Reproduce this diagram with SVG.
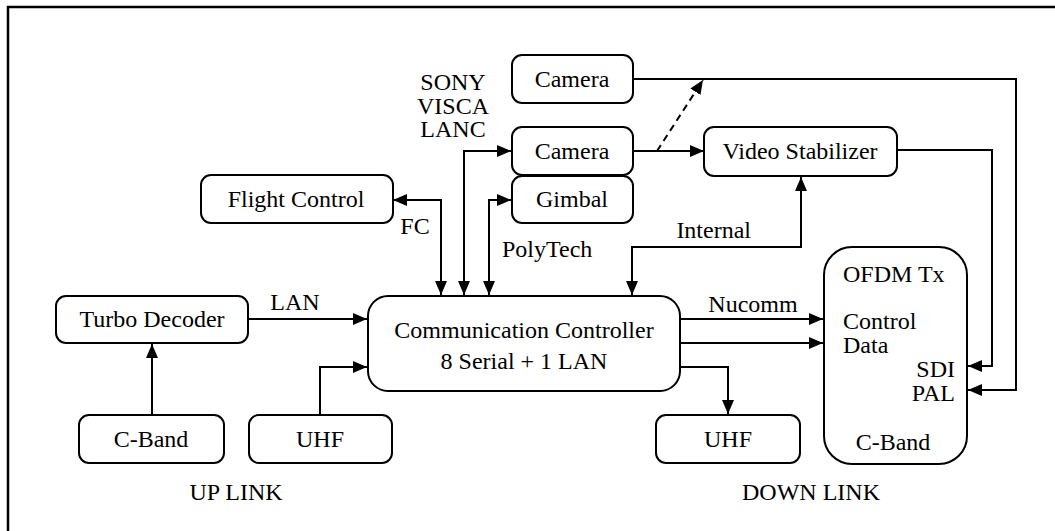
<svg xmlns="http://www.w3.org/2000/svg" width="1055" height="531" viewBox="0 0 1055 531" font-family="Liberation Serif">
  <defs>
    <marker id="arr" viewBox="0 0 14 12" refX="14" refY="6" markerWidth="14" markerHeight="12" markerUnits="userSpaceOnUse" orient="auto-start-reverse">
      <path d="M0,0 L14,6 L0,12 Z" fill="#000"/>
    </marker>
  </defs>

  <rect width="1055" height="531" fill="#fff"/>
  <!-- frame -->
  <path d="M8,531 V7 H1055" fill="none" stroke="#000" stroke-width="2.5"/>

  <!-- connectors -->
  <g id="connectors" fill="none" stroke="#000" stroke-width="2">
    <path d="M441,295 V200 H393" marker-start="url(#arr)" marker-end="url(#arr)"/>
    <path d="M464,295 V151 H511" marker-start="url(#arr)" marker-end="url(#arr)"/>
    <path d="M489,295 V200 H511" marker-start="url(#arr)" marker-end="url(#arr)"/>
    <path d="M632,295 V247 H801 V177" marker-start="url(#arr)" marker-end="url(#arr)"/>
    <path d="M633,151 H704" marker-end="url(#arr)"/>
    <path d="M657,151 L703,80" stroke-dasharray="7 5" marker-end="url(#arr)"/>
    <path d="M633,79 H1016 V390 H968" marker-end="url(#arr)"/>
    <path d="M897,150 H992 V366 H968" marker-end="url(#arr)"/>
    <path d="M248,319 H367" marker-end="url(#arr)"/>
    <path d="M152,415 V344" marker-end="url(#arr)"/>
    <path d="M320,415 V367 H367" marker-end="url(#arr)"/>
    <path d="M680,319 H823" marker-end="url(#arr)"/>
    <path d="M680,343 H823" marker-end="url(#arr)"/>
    <path d="M680,367 H728 V414" marker-end="url(#arr)"/>
  </g>

  <!-- node boxes -->
  <g fill="#fff" stroke="#000" stroke-width="2">
    <rect id="camera-top-box" x="512" y="55" width="121" height="48" rx="10"/>
    <rect id="camera-box" x="512" y="127" width="121" height="48" rx="10"/>
    <rect id="gimbal-box" x="512" y="176" width="121" height="47" rx="10"/>
    <rect id="flight-control-box" x="201" y="175" width="192" height="48" rx="10"/>
    <rect id="video-stabilizer-box" x="704" y="127" width="193" height="49" rx="10"/>
    <rect id="turbo-decoder-box" x="56" y="296" width="192" height="47" rx="10"/>
    <rect id="comm-controller-box" x="368" y="296" width="312" height="95" rx="20"/>
    <rect id="ofdm-tx-box" x="824" y="247" width="143" height="217" rx="28"/>
    <rect id="cband-up-box" x="79" y="415" width="145" height="48" rx="10"/>
    <rect id="uhf-up-box" x="249" y="415" width="143" height="48" rx="10"/>
    <rect id="uhf-down-box" x="656" y="415" width="144" height="48" rx="10"/>
  </g>

  <!-- node texts -->
  <g id="camera-top"><text x="572" y="87" style="font-family:'Liberation Serif',serif" font-size="24" text-anchor="middle">Camera</text></g>
  <g id="camera"><text x="572" y="159" style="font-family:'Liberation Serif',serif" font-size="24" text-anchor="middle">Camera</text></g>
  <g id="gimbal"><text x="572" y="207" style="font-family:'Liberation Serif',serif" font-size="24" text-anchor="middle">Gimbal</text></g>
  <g id="flight-control"><text x="296" y="207" style="font-family:'Liberation Serif',serif" font-size="24" text-anchor="middle">Flight Control</text></g>
  <g id="video-stabilizer"><text x="800" y="159" style="font-family:'Liberation Serif',serif" font-size="24" text-anchor="middle">Video Stabilizer</text></g>
  <g id="turbo-decoder"><text x="152" y="327" style="font-family:'Liberation Serif',serif" font-size="24" text-anchor="middle">Turbo Decoder</text></g>
  <g id="comm-controller">
    <text x="524" y="338" style="font-family:'Liberation Serif',serif" font-size="24" text-anchor="middle">Communication Controller</text>
    <text x="524" y="369" style="font-family:'Liberation Serif',serif" font-size="24" text-anchor="middle">8 Serial + 1 LAN</text>
  </g>
  <g id="ofdm-tx">
    <text x="843" y="282" style="font-family:'Liberation Serif',serif" font-size="24">OFDM Tx</text>
    <text x="843" y="329" style="font-family:'Liberation Serif',serif" font-size="24">Control</text>
    <text x="843" y="353" style="font-family:'Liberation Serif',serif" font-size="24">Data</text>
    <text x="955" y="377" style="font-family:'Liberation Serif',serif" font-size="24" text-anchor="end">SDI</text>
    <text x="955" y="401" style="font-family:'Liberation Serif',serif" font-size="24" text-anchor="end">PAL</text>
    <text x="893" y="450" style="font-family:'Liberation Serif',serif" font-size="24" text-anchor="middle">C-Band</text>
  </g>
  <g id="cband-up"><text x="151" y="447" style="font-family:'Liberation Serif',serif" font-size="24" text-anchor="middle">C-Band</text></g>
  <g id="uhf-up"><text x="320" y="447" style="font-family:'Liberation Serif',serif" font-size="24" text-anchor="middle">UHF</text></g>
  <g id="uhf-down"><text x="728" y="447" style="font-family:'Liberation Serif',serif" font-size="24" text-anchor="middle">UHF</text></g>

  <!-- labels -->
  <g id="labels">
    <text x="453" y="90" style="font-family:'Liberation Serif',serif" font-size="24" text-anchor="middle">SONY</text>
    <text x="453" y="113.5" style="font-family:'Liberation Serif',serif" font-size="24" text-anchor="middle">VISCA</text>
    <text x="453" y="137" style="font-family:'Liberation Serif',serif" font-size="24" text-anchor="middle">LANC</text>
    <text x="415" y="234" style="font-family:'Liberation Serif',serif" font-size="24" text-anchor="middle">FC</text>
    <text x="502" y="257" style="font-family:'Liberation Serif',serif" font-size="24">PolyTech</text>
    <text x="751" y="238" style="font-family:'Liberation Serif',serif" font-size="24" text-anchor="end">Internal</text>
    <text x="295" y="310" style="font-family:'Liberation Serif',serif" font-size="24" text-anchor="middle">LAN</text>
    <text x="753" y="312" style="font-family:'Liberation Serif',serif" font-size="24" text-anchor="middle">Nucomm</text>
    <text x="236" y="500" style="font-family:'Liberation Serif',serif" font-size="24" text-anchor="middle">UP LINK</text>
    <text x="811" y="500" style="font-family:'Liberation Serif',serif" font-size="24" text-anchor="middle">DOWN LINK</text>
  </g>
</svg>
